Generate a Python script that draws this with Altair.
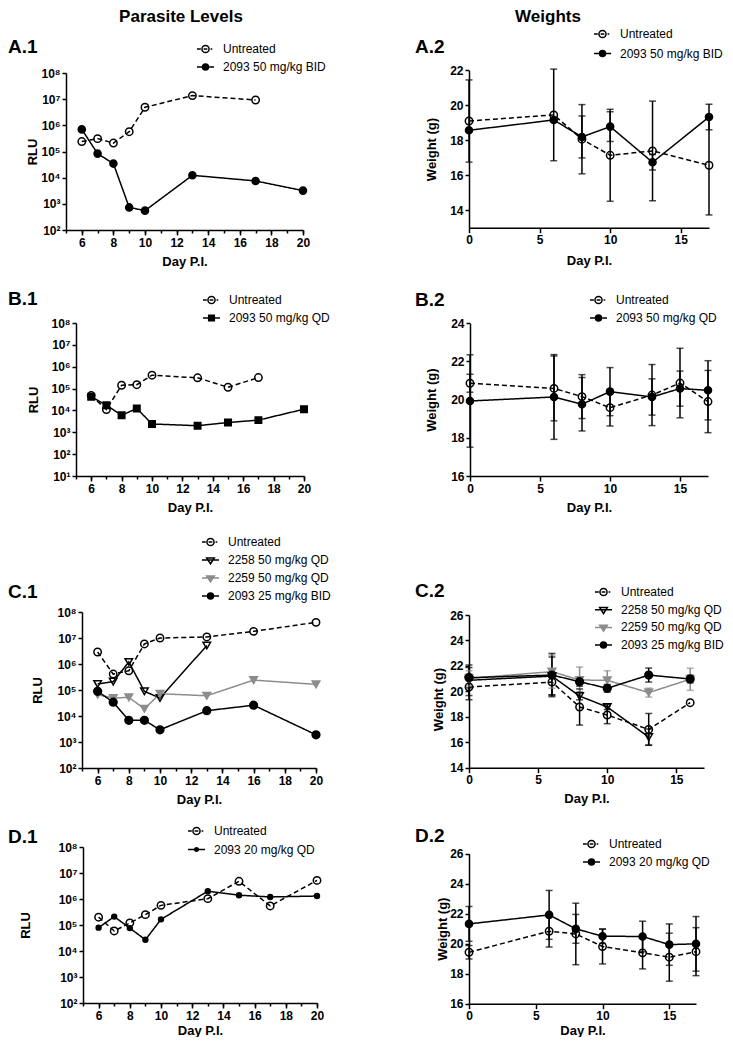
import altair as alt
import pandas as pd

FONT = "Liberation Sans"
BLACK = "#000000"
GRAY = "#8c8c8c"

# ---------------- series names ----------------
UNT = "Untreated"
A_TRT = "2093 50 mg/kg BID"
B_TRT = "2093 50 mg/kg QD"
C_2258 = "2258 50 mg/kg QD"
C_2259 = "2259 50 mg/kg QD"
C_2093 = "2093 25 mg/kg BID"
D_TRT = "2093 20 mg/kg QD"

# ---------------- A.1 parasite levels (RLU) ----------------
A1_UNT_DAYS = [6, 7, 8, 9, 10, 13, 17]
A1_UNT_RLU = [2.4e5, 3.1e5, 2.1e5, 5.7e5, 4.9e6, 1.37e7, 9.3e6]
A1_TRT_DAYS = [6, 7, 8, 9, 10, 13, 17, 20]
A1_TRT_RLU = [7.0e5, 8.3e4, 3.45e4, 7.3e2, 5.5e2, 1.23e4, 7.5e3, 3.2e3]

# ---------------- A.2 weights (g) ----------------
A2_DAYS = [0, 6, 8, 10, 13, 17]
A2_UNT_MEAN = [19.1, 19.45, 18.06, 17.14, 17.39, 16.57]
A2_UNT_SD = [2.35, 2.62, 1.98, 2.63, 2.85, 2.84]
A2_TRT_MEAN = [18.57, 19.16, 18.19, 18.78, 16.74, 19.33]
A2_TRT_SD = [None, None, 1.2, 0.85, 0.44, 0.73]

# ---------------- B.1 ----------------
B1_UNT_DAYS = [6, 7, 8, 9, 10, 13, 15, 17]
B1_UNT_RLU = [4.8e4, 1.1e4, 1.42e5, 1.5e5, 4.1e5, 3.1e5, 1.15e5, 3.2e5]
B1_TRT_DAYS = [6, 7, 8, 9, 10, 13, 15, 17, 20]
B1_TRT_RLU = [4.2e4, 1.74e4, 6.0e3, 1.23e4, 2.4e3, 2.0e3, 2.8e3, 3.6e3, 1.14e4]

# ---------------- B.2 ----------------
B2_DAYS = [0, 6, 8, 10, 13, 15, 17]
B2_UNT_MEAN = [20.86, 20.59, 20.16, 19.58, 20.24, 20.87, 19.9]
B2_UNT_SD = [0.47, 1.7, 1.15, 0.96, 1.6, 1.82, 1.63]
B2_TRT_MEAN = [19.93, 20.14, 19.76, 20.42, 20.14, 20.58, 20.49]
B2_TRT_SD = [2.42, 2.22, 1.4, 1.26, 0.95, 0.92, 1.55]

# ---------------- C.1 ----------------
C1_UNT_DAYS = [6, 7, 8, 9, 10, 13, 16, 20]
C1_UNT_RLU = [2.9e6, 4.1e5, 5.5e5, 5.9e6, 1.0e7, 1.1e7, 1.8e7, 4.0e7]
C1_2258_DAYS = [6, 7, 8, 9, 10, 13]
C1_2258_RLU = [1.7e5, 2.1e5, 1.2e6, 8.9e4, 4.9e4, 5.1e6]
C1_2259_DAYS = [6, 7, 8, 9, 10, 13, 16, 20]
C1_2259_RLU = [6.6e4, 4.9e4, 5.2e4, 1.9e4, 7.2e4, 6.0e4, 2.4e5, 1.65e5]
C1_2093_DAYS = [6, 7, 8, 9, 10, 13, 16, 20]
C1_2093_RLU = [8.9e4, 3.4e4, 6.8e3, 6.8e3, 2.95e3, 1.6e4, 2.6e4, 1.9e3]

# ---------------- C.2 ----------------
C2_UNT_DAYS = [0, 6, 8, 10, 13, 16]
C2_UNT_MEAN = [20.34, 20.73, 18.77, 18.14, 17.01, 19.11]
C2_UNT_SD = [1.0, 1.0, 1.42, 0.68, 1.25, None]
C2_2258_DAYS = [0, 6, 8, 10, 13]
C2_2258_MEAN = [20.87, 21.2, 19.63, 18.77, 16.41]
C2_2258_SD = [1.2, 1.5, 0.3, 0.2, 0.63]
C2_2259_DAYS = [0, 6, 8, 10, 13, 16]
C2_2259_MEAN = [21.02, 21.55, 20.89, 20.87, 19.9, 20.95]
C2_2259_SD = [0.6, 1.3, 1.02, 0.75, 0.35, 0.87]
C2_2093_DAYS = [0, 6, 8, 10, 13, 16]
C2_2093_MEAN = [21.07, 21.28, 20.76, 20.24, 21.28, 20.97]
C2_2093_SD = [0.8, 1.7, 0.35, 0.3, 0.55, 0.3]

# ---------------- D.1 ----------------
D1_DAYS = [6, 7, 8, 9, 10, 13, 15, 17, 20]
D1_UNT_RLU = [2.0e5, 5.9e4, 1.2e5, 2.5e5, 5.7e5, 1.03e6, 4.8e6, 5.4e5, 5.2e6]
D1_TRT_RLU = [7.9e4, 2.1e5, 7.6e4, 2.7e4, 1.65e5, 2.0e6, 1.4e6, 1.2e6, 1.3e6]

# ---------------- D.2 ----------------
D2_DAYS = [0, 6, 8, 10, 13, 15, 17]
D2_UNT_MEAN = [19.43, 20.83, 20.65, 19.81, 19.39, 19.1, 19.47]
D2_UNT_SD = [0.45, 1.05, 2.05, 1.16, 1.07, 1.6, 1.6]
D2_TRT_MEAN = [21.32, 21.92, 20.99, 20.5, 20.48, 19.94, 19.99]
D2_TRT_SD = [1.16, 1.63, 0.96, 0.48, 1.02, 1.38, 1.82]

# ---------------- axis tick values ----------------
LOG_X_TICKS = [6, 8, 10, 12, 14, 16, 18, 20]
LOG_X_MINOR = list(range(5, 21))
W_X_TICKS = [0, 5, 10, 15]


# ---------------- legend symbol paths (unit square -1..1) ----------------
def circ(r):
    return f"M{r:.3f},0A{r:.3f},{r:.3f} 0 1,1 {-r:.3f},0A{r:.3f},{r:.3f} 0 1,1 {r:.3f},0Z"


def filled(fn, r, step=0.12):
    p = ""
    while r > 0.03:
        p += fn(r)
        r -= step
    return p


def sq(h):
    return f"M{-h:.3f},{-h:.3f}H{h:.3f}V{h:.3f}H{-h:.3f}Z"


def tri(s):
    return f"M{-s:.3f},{-0.55 * s:.3f}L{s:.3f},{-0.55 * s:.3f}L0,{s:.3f}Z"


LINE = "M-1,0H1"
STY = {
    "unt": dict(color=BLACK, dash=[5, 3], shape="circle", fill="transparent", size=55,
                legend="M-1,0H-0.55M0.6,0H0.8M-0.22,0H0.22" + circ(0.42)),
    "fc": dict(color=BLACK, dash=[1, 0], shape="circle", fill=BLACK, size=50,
               legend=LINE + filled(circ, 0.35)),
    "fs": dict(color=BLACK, dash=[1, 0], shape="square", fill=BLACK, size=42,
               legend=LINE + filled(sq, 0.33)),
    "ot": dict(color=BLACK, dash=[1, 0], shape="triangle-down", fill="transparent", size=60,
               legend=LINE + tri(0.45)),
    "gt": dict(color=GRAY, dash=[1, 0], shape="triangle-down", fill=GRAY, size=55,
               legend=LINE + filled(tri, 0.45)),
    "sd": dict(color=BLACK, dash=[1, 0], shape="circle", fill=BLACK, size=24,
               legend=LINE + filled(circ, 0.22)),
}

LEG_SIZE = 289
ENTRY = 19
ENTRY_H = 17

# ---------------- layout (pixels, relative to each panel group) ----------------
P = {
    "A1": dict(xo=0, pw=237, yo=3, h=160, ytx=-34, xty=31, lab=("A.1", -58, -23), leg=(131, -21, 18),
               head=("Parasite Levels", 115)),
    "A2": dict(xo=0, pw=240, yo=0.3, h=157.7, ytx=-38, xty=33, lab=("A.2", -54, -23), leg=(125, -36, 19.5),
               head=("Weights", 79)),
    "B1": dict(xo=10, pw=228, yo=73, h=226, ytx=-43, xty=31, lab=("B.1", -58, 48.5), leg=(137, 50, 18)),
    "B2": dict(xo=1, pw=238, yo=73.3, h=226, ytx=-39, xty=31, lab=("B.2", -54, 49.5), leg=(121, 50, 18)),
    "C1": dict(xo=16, pw=234, yo=116, h=272, ytx=-45, xty=31, lab=("C.1", -58, 95.5), leg=(136, 46, 18)),
    "C2": dict(xo=0, pw=235, yo=119, h=271.7, ytx=-31, xty=31, yty=203, lab=("C.2", -54, 94.5),
               leg=(126, 96, 17.7)),
    "D1": dict(xo=17, pw=234, yo=59, h=215, ytx=-58, xty=27, lab=("D.1", -58, 49), leg=(122, 43, 18.5)),
    "D2": dict(xo=0, pw=227, yo=65.7, h=215.7, ytx=-27, xty=26.3, lab=("D.2", -54, 47.5), leg=(114, 56, 18)),
}

SUP = "['\u2070','\u00b9','\u00b2','\u00b3','\u2074','\u2075','\u2076','\u2077','\u2078']"


def x_axis(vals, p):
    return alt.Axis(values=vals, orient="bottom", title="Day P.I.", titleFont=FONT, titleFontSize=13,
                    titleFontWeight="bold", titleColor="black", titleY=p["xty"], titleBaseline="middle",
                    labelFont=FONT, labelFontSize=12, labelFontWeight="bold", labelColor="black",
                    labelPadding=2, labelFlush=False, tickSize=5, tickWidth=1.5, tickColor="black",
                    domainColor="black", domainWidth=1.5, grid=False)


def minor_axis():
    return alt.Axis(values=LOG_X_MINOR, orient="bottom", labels=False, domain=False, title=None,
                    tickSize=3, tickWidth=1.5, tickColor="black", grid=False)


def y_axis(vals, title, p, log=False):
    kw = dict(values=vals, orient="left", title=title, titleFont=FONT, titleFontSize=13,
              titleFontWeight="bold", titleColor="black", titleX=p["ytx"], titleBaseline="middle",
              titleAngle=270, labelFont=FONT, labelFontSize=12, labelFontWeight="bold",
              labelColor="black", labelPadding=2, labelFlush=False, tickSize=4, tickWidth=1.5,
              tickColor="black", domainColor="black", domainWidth=1.5, grid=False, offset=-p["xo"])
    if "yty" in p:
        kw["titleY"] = p["yty"]
    if log:
        kw["labelExpr"] = "'10' + " + SUP + "[round(log(datum.value) / LN10)]"
    return alt.Axis(**kw)


def text_layer(txt, x, y, size, align="left", baseline="middle"):
    return alt.Chart(pd.DataFrame({"t": [txt]})).mark_text(
        align=align, baseline=baseline, font=FONT, fontSize=size, fontWeight="bold", color="black"
    ).encode(text="t:N", x=alt.value(x), y=alt.value(y))


def legend_layer(names, st, p):
    lx, c1, pitch = p["leg"]
    leg = alt.Legend(title=None, orient="none", legendX=lx - (ENTRY - 17) / 2, legendY=c1 - ENTRY / 2,
                     direction="vertical", columns=1, padding=0, symbolOffset=0,
                     symbolSize=LEG_SIZE, symbolStrokeWidth=1.5, symbolOpacity=1,
                     symbolFillColor="transparent", labelFont=FONT, labelFontSize=12,
                     labelColor="black", labelOffset=26 - ENTRY + (ENTRY - 17) / 2, labelLimit=400,
                     rowPadding=max(pitch - ENTRY_H, 0))
    df = pd.DataFrame({"series": names})
    return alt.Chart(df).mark_point(opacity=0, filled=False, size=LEG_SIZE).encode(
        shape=alt.Shape("series:N", scale=alt.Scale(domain=names, range=[s["legend"] for s in st]),
                        legend=leg),
        color=alt.Color("series:N", scale=alt.Scale(domain=names, range=[s["color"] for s in st]),
                        legend=leg),
    )


def decorations(p):
    layers = [text_layer(p["lab"][0], p["lab"][1], p["lab"][2], 19)]
    if "head" in p:
        layers.append(text_layer(p["head"][0], p["head"][1], -61, 17, align="center", baseline="top"))
    return layers


def series_scales(names, st):
    return dict(
        stroke=alt.Stroke("series:N", scale=alt.Scale(domain=names, range=[s["color"] for s in st]),
                          legend=None),
        dash=alt.StrokeDash("series:N", scale=alt.Scale(domain=names, range=[s["dash"] for s in st]),
                            legend=None),
        shape=alt.Shape("series:N", scale=alt.Scale(domain=names, range=[s["shape"] for s in st]),
                        legend=None),
        fill=alt.Fill("series:N", scale=alt.Scale(domain=names, range=[s["fill"] for s in st]),
                      legend=None),
        size=alt.Size("series:N", scale=alt.Scale(domain=names, range=[s["size"] for s in st]),
                      legend=None),
        color=alt.Color("series:N", scale=alt.Scale(domain=names, range=[s["color"] for s in st]),
                        legend=None),
    )


def log_panel(key, series, ydom, yvals):
    p = P[key]
    names = [s[0] for s in series]
    st = [STY[s[1]] for s in series]
    rows = []
    for name, _, days, vals in series:
        for d, v in zip(days, vals):
            rows.append({"series": name, "day": d, "value": v})
    df = pd.DataFrame(rows)
    sc = series_scales(names, st)
    xs = alt.Scale(domain=[5, 20], range=[p["xo"], p["xo"] + p["pw"]], nice=False, zero=False)
    ys = alt.Scale(type="log", domain=ydom, range=[p["h"], p["yo"]], nice=False)
    yax = y_axis(yvals, "RLU", p, log=True)
    base = alt.Chart(df)
    line = base.mark_line(strokeWidth=1.5).encode(
        x=alt.X("day:Q", scale=xs, axis=x_axis(LOG_X_TICKS, p)),
        y=alt.Y("value:Q", scale=ys, axis=yax),
        stroke=sc["stroke"], strokeDash=sc["dash"],
    )
    pts = base.mark_point(filled=False, strokeWidth=1.5, opacity=1).encode(
        x=alt.X("day:Q", scale=xs, axis=minor_axis()),
        y=alt.Y("value:Q", scale=ys, axis=yax),
        shape=sc["shape"], fill=sc["fill"], stroke=sc["stroke"], size=sc["size"],
    )
    layers = [line, pts, legend_layer(names, st, p)] + decorations(p)
    return alt.layer(*layers).resolve_scale(shape="independent", color="independent").resolve_axis(
        x="independent").properties(width=p["xo"] + p["pw"], height=p["h"])


def weight_panel(key, series, ydom, yvals):
    p = P[key]
    names = [s[0] for s in series]
    st = [STY[s[1]] for s in series]
    rows, err = [], []
    for name, _, days, means, sds in series:
        for d, m, s in zip(days, means, sds):
            rows.append({"series": name, "day": d, "value": m})
            if s is not None:
                err.append({"series": name, "day": d, "lo": m - s, "hi": m + s})
    df = pd.DataFrame(rows)
    de = pd.DataFrame(err)
    sc = series_scales(names, st)
    xs = alt.Scale(domain=[0, 17], range=[p["xo"], p["xo"] + p["pw"]], nice=False, zero=False)
    ys = alt.Scale(domain=ydom, range=[p["h"], p["yo"]], nice=False, zero=False)
    xax = x_axis(W_X_TICKS, p)
    yax = y_axis(yvals, "Weight (g)", p)
    base = alt.Chart(df)
    line = base.mark_line(strokeWidth=1.5).encode(
        x=alt.X("day:Q", scale=xs, axis=xax),
        y=alt.Y("value:Q", scale=ys, axis=yax),
        stroke=sc["stroke"], strokeDash=sc["dash"],
    )
    eb = alt.Chart(de)
    rule = eb.mark_rule(strokeWidth=1.5).encode(
        x=alt.X("day:Q", scale=xs, axis=xax), y=alt.Y("lo:Q", scale=ys, axis=yax), y2="hi:Q",
        color=sc["color"])
    cap_lo = eb.mark_tick(orient="horizontal", size=7, thickness=1.5).encode(
        x=alt.X("day:Q", scale=xs, axis=xax), y=alt.Y("lo:Q", scale=ys, axis=yax), color=sc["color"])
    cap_hi = eb.mark_tick(orient="horizontal", size=7, thickness=1.5).encode(
        x=alt.X("day:Q", scale=xs, axis=xax), y=alt.Y("hi:Q", scale=ys, axis=yax), color=sc["color"])
    pts = base.mark_point(filled=False, strokeWidth=1.5, opacity=1).encode(
        x=alt.X("day:Q", scale=xs, axis=xax),
        y=alt.Y("value:Q", scale=ys, axis=yax),
        shape=sc["shape"], fill=sc["fill"], stroke=sc["stroke"], size=sc["size"],
    )
    layers = [line, rule, cap_lo, cap_hi, pts, legend_layer(names, st, p)] + decorations(p)
    return alt.layer(*layers).resolve_scale(shape="independent", color="independent").properties(
        width=p["xo"] + p["pw"], height=p["h"])


A1 = log_panel("A1", [(UNT, "unt", A1_UNT_DAYS, A1_UNT_RLU), (A_TRT, "fc", A1_TRT_DAYS, A1_TRT_RLU)],
               [1e2, 1e8], [1e2, 1e3, 1e4, 1e5, 1e6, 1e7, 1e8])
A2 = weight_panel("A2", [(UNT, "unt", A2_DAYS, A2_UNT_MEAN, A2_UNT_SD),
                         (A_TRT, "fc", A2_DAYS, A2_TRT_MEAN, A2_TRT_SD)],
                  [13, 22], [14, 16, 18, 20, 22])
B1 = log_panel("B1", [(UNT, "unt", B1_UNT_DAYS, B1_UNT_RLU), (B_TRT, "fs", B1_TRT_DAYS, B1_TRT_RLU)],
               [1e1, 1e8], [1e1, 1e2, 1e3, 1e4, 1e5, 1e6, 1e7, 1e8])
B2 = weight_panel("B2", [(UNT, "unt", B2_DAYS, B2_UNT_MEAN, B2_UNT_SD),
                         (B_TRT, "fc", B2_DAYS, B2_TRT_MEAN, B2_TRT_SD)],
                  [16, 24], [16, 18, 20, 22, 24])
C1 = log_panel("C1", [(UNT, "unt", C1_UNT_DAYS, C1_UNT_RLU), (C_2258, "ot", C1_2258_DAYS, C1_2258_RLU),
                      (C_2259, "gt", C1_2259_DAYS, C1_2259_RLU), (C_2093, "fc", C1_2093_DAYS, C1_2093_RLU)],
               [1e2, 1e8], [1e2, 1e3, 1e4, 1e5, 1e6, 1e7, 1e8])
C2 = weight_panel("C2", [(UNT, "unt", C2_UNT_DAYS, C2_UNT_MEAN, C2_UNT_SD),
                         (C_2258, "ot", C2_2258_DAYS, C2_2258_MEAN, C2_2258_SD),
                         (C_2259, "gt", C2_2259_DAYS, C2_2259_MEAN, C2_2259_SD),
                         (C_2093, "fc", C2_2093_DAYS, C2_2093_MEAN, C2_2093_SD)],
                  [14, 26], [14, 16, 18, 20, 22, 24, 26])
D1 = log_panel("D1", [(UNT, "unt", D1_DAYS, D1_UNT_RLU), (D_TRT, "sd", D1_DAYS, D1_TRT_RLU)],
               [1e2, 1e8], [1e2, 1e3, 1e4, 1e5, 1e6, 1e7, 1e8])
D2 = weight_panel("D2", [(UNT, "unt", D2_DAYS, D2_UNT_MEAN, D2_UNT_SD),
                         (D_TRT, "fc", D2_DAYS, D2_TRT_MEAN, D2_TRT_SD)],
                  [16, 26], [16, 18, 20, 22, 24, 26])

chart = alt.concat(A1, A2, B1, B2, C1, C2, D1, D2, columns=2, spacing={"row": 20, "column": 152},
                   bounds="flush", align="each").resolve_scale(
    color="independent", shape="independent", fill="independent", stroke="independent",
    strokeDash="independent", size="independent"
).properties(padding=0).configure(font=FONT).configure_view(strokeWidth=0)

chart.save("out.html", embed_options={"renderer": "svg", "actions": False})
